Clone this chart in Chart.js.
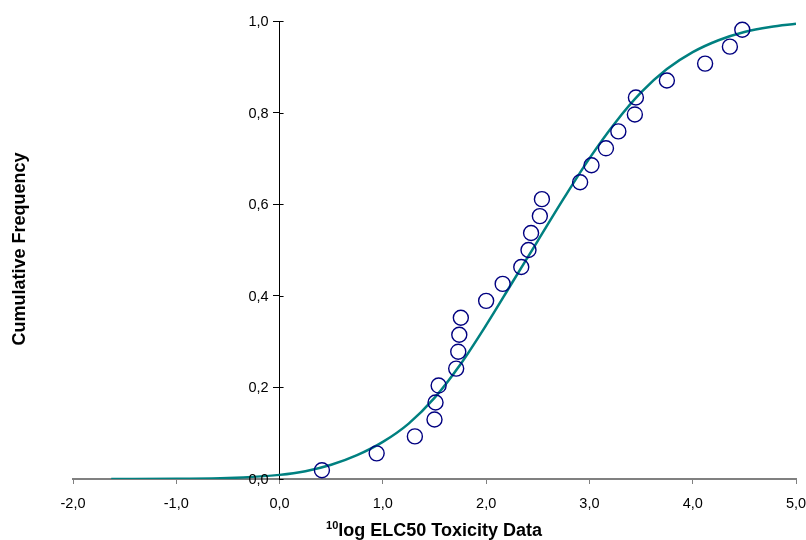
<!DOCTYPE html>
<html>
<head>
<meta charset="utf-8">
<script src="https://cdn.jsdelivr.net/npm/chart.js@4.4.0/dist/chart.umd.min.js"></script>
<style>
  html, body { margin: 0; padding: 0; background: #fff; }
  #wrap { width: 806px; height: 540px; }
</style>
</head>
<body>
<div id="wrap"><canvas id="chart0" width="806" height="540"></canvas></div>
<script>
// observed toxicity data (log ELC50) and their cumulative frequencies
var pointX = [0.41, 0.94, 1.31, 1.50, 1.51, 1.54, 1.71, 1.73, 1.74, 1.755, 2.00, 2.16, 2.34, 2.41,
              2.435, 2.52, 2.54, 2.91, 3.02, 3.16, 3.28, 3.44, 3.45, 3.75, 4.12, 4.36, 4.48];
var pointY = [0.019, 0.056, 0.093, 0.130, 0.167, 0.204, 0.241, 0.278, 0.315, 0.352, 0.389, 0.426, 0.463, 0.500,
              0.537, 0.574, 0.611, 0.648, 0.685, 0.722, 0.759, 0.796, 0.833, 0.870, 0.907, 0.944, 0.981];

// fitted curve
var curveX = [-1.63, -1.0, -0.5, 0.0, 0.25, 0.5, 0.75, 1.0, 1.25, 1.5, 1.75, 2.0, 2.25,
              2.5, 2.75, 3.0, 3.25, 3.5, 3.75, 4.0, 4.25, 4.5, 4.75, 5.0];
var curveY = [0.000, 0.0005, 0.002, 0.009, 0.017, 0.031, 0.052, 0.081, 0.121, 0.177, 0.250, 0.336, 0.428,
              0.520, 0.612, 0.700, 0.778, 0.844, 0.895, 0.932, 0.958, 0.976, 0.987, 0.994];

var xTitle = 'log ELC50 Toxicity Data';
var xTitleSup = '10';
var yTitle = 'Cumulative Frequency';

var FONT = '"Liberation Sans", Arial, sans-serif';

function pairs(xs, ys) {
    var out = [];
    for (var i = 0; i < xs.length; i++) { out.push({ x: xs[i], y: ys[i] }); }
    return out;
}
function comma(v) { return Number(v).toFixed(1).replace('.', ','); }

// y tick labels (the axis sits at x=0), cross part of y ticks, axis titles
var extras = {
    id: 'extras',
    afterDraw: function (chart) {
        var ctx = chart.ctx;
        var ys = chart.scales.y, xs = chart.scales.x;
        var x0 = xs.getPixelForValue(0);
        ctx.save();
        ctx.strokeStyle = '#000';
        ctx.lineWidth = 1;
        ctx.fillStyle = '#000';
        ctx.font = '14.5px ' + FONT;
        ctx.textAlign = 'right';
        ctx.textBaseline = 'middle';
        ys.ticks.forEach(function (t) {
            var py = Math.round(ys.getPixelForValue(t.value)) + 0.5;
            ctx.beginPath();
            ctx.moveTo(x0, py);
            ctx.lineTo(x0 + 4, py);
            ctx.stroke();
            ctx.fillText(comma(t.value), x0 - 11, py);
        });

        ctx.textBaseline = 'alphabetic';
        ctx.font = 'bold 18px ' + FONT;
        var w = ctx.measureText(xTitle).width;
        ctx.font = 'bold 11px ' + FONT;
        var ws = ctx.measureText(xTitleSup).width;
        var left = 434 - (w + ws) / 2;
        ctx.textAlign = 'left';
        ctx.fillText(xTitleSup, left, 529);
        ctx.font = 'bold 18px ' + FONT;
        ctx.fillText(xTitle, left + ws, 536);

        ctx.translate(25, 249);
        ctx.rotate(-Math.PI / 2);
        ctx.textAlign = 'center';
        ctx.fillText(yTitle, 0, 0);
        ctx.restore();
    }
};

Chart.defaults.font.family = FONT;
Chart.defaults.color = '#000';

new Chart(document.getElementById('chart0'), {
    type: 'scatter',
    data: {
        datasets: [{
            label: 'data',
            data: pairs(pointX, pointY),
            showLine: false,
            pointRadius: 7.5,
            pointHoverRadius: 7.5,
            pointBorderWidth: 1.4,
            pointBorderColor: '#000080',
            pointBackgroundColor: 'rgba(0,0,0,0)',
            order: 0
        }, {
            label: 'fit',
            data: pairs(curveX, curveY),
            showLine: true,
            borderColor: '#008080',
            borderWidth: 2.5,
            pointRadius: 0,
            cubicInterpolationMode: 'monotone',
            order: 1
        }]
    },
    options: {
        responsive: false,
        animation: false,
        layout: { padding: { left: 73, right: 10, top: 21, bottom: 61 } },
        plugins: { legend: { display: false }, tooltip: { enabled: false } },
        scales: {
            x: {
                type: 'linear', min: -2, max: 5,
                position: { y: 0 },
                afterFit: function (s) { s.paddingLeft = 0; s.paddingRight = 0; },
                ticks: { stepSize: 1, callback: comma, font: { size: 14.5 }, padding: 12, maxRotation: 0 },
                grid: { drawOnChartArea: false, tickLength: 4, color: '#808080', lineWidth: 1 },
                border: { color: '#808080', width: 2 }
            },
            y: {
                type: 'linear', min: 0, max: 1,
                position: { x: 0 },
                afterFit: function (s) { s.paddingTop = 0; s.paddingBottom = 0; },
                ticks: { stepSize: 0.2, display: false },
                grid: { drawOnChartArea: false, tickLength: 6, color: '#000', lineWidth: 1 },
                border: { color: '#000', width: 1 }
            }
        }
    },
    plugins: [extras]
});
</script>
</body>
</html>
